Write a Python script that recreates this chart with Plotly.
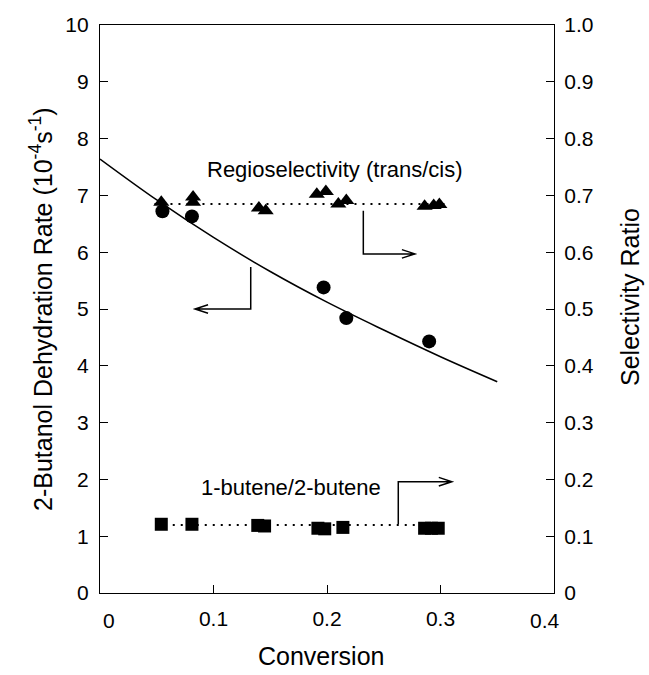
import plotly.graph_objects as go

# ---- data ----
rate_x = [0.055, 0.081, 0.197, 0.217, 0.290]
rate_y = [6.72, 6.63, 5.38, 4.84, 4.43]

fit_x = [0.0, 0.05, 0.10, 0.15, 0.20, 0.25, 0.30, 0.35]
fit_y = [7.64, 6.92, 6.26, 5.66, 5.12, 4.63, 4.16, 3.72]

regio_x = [0.054, 0.082, 0.082, 0.140, 0.146, 0.191, 0.199, 0.210, 0.217, 0.286, 0.294, 0.299]
regio_y = [0.688, 0.697, 0.688, 0.678, 0.673, 0.702, 0.707, 0.685, 0.691, 0.681, 0.682, 0.684]
regio_mean_x = [0.048, 0.304]
regio_mean_y = [0.685, 0.685]

butene_x = [0.054, 0.081, 0.139, 0.145, 0.192, 0.198, 0.214, 0.286, 0.292, 0.298]
butene_y = [0.121, 0.121, 0.119, 0.118, 0.114, 0.113, 0.1155, 0.114, 0.114, 0.114]
butene_mean_x = [0.050, 0.300]
butene_mean_y = [0.1195, 0.1195]

x_ticks = [0.1, 0.2, 0.3]
x_ticklabels = ["0.1", "0.2", "0.3"]
x_end_labels = {0.0: "0", 0.4: "0.4"}
y_ticks = list(range(0, 11))
y_ticklabels = [str(v) for v in y_ticks]
y2_ticks = [i / 10 for i in range(0, 11)]
y2_ticklabels = ["0", "0.1", "0.2", "0.3", "0.4", "0.5", "0.6", "0.7", "0.8", "0.9", "1.0"]

FONT = "Liberation Sans, Arial, sans-serif"
TICK_SIZE = 21

fig = go.Figure()

fig.add_trace(go.Scatter(x=fit_x, y=fit_y, mode="lines", line=dict(color="black", width=1.5, shape="spline"),
                         showlegend=False, hoverinfo="skip"))
fig.add_trace(go.Scatter(x=rate_x, y=rate_y, mode="markers",
                         marker=dict(symbol="circle", size=14, color="black"), showlegend=False))

fig.add_trace(go.Scatter(x=regio_mean_x, y=regio_mean_y, yaxis="y2", mode="lines",
                         line=dict(color="black", width=2, dash="2px,6px"), showlegend=False, hoverinfo="skip"))
fig.add_trace(go.Scatter(x=regio_x, y=regio_y, yaxis="y2", mode="markers",
                         marker=dict(symbol="triangle-up", size=14, color="black"), showlegend=False))

fig.add_trace(go.Scatter(x=butene_mean_x, y=butene_mean_y, yaxis="y2", mode="lines",
                         line=dict(color="black", width=2, dash="2px,6px"), showlegend=False, hoverinfo="skip"))
fig.add_trace(go.Scatter(x=butene_x, y=butene_y, yaxis="y2", mode="markers",
                         marker=dict(symbol="square", size=13, color="black"), showlegend=False))

axis_common = dict(showgrid=False, zeroline=False, showline=True, linecolor="black", linewidth=1.3,
                   ticks="inside", ticklen=8, tickwidth=1.3, tickcolor="black",
                   tickfont=dict(family=FONT, size=TICK_SIZE, color="black"))

fig.update_layout(
    width=649, height=675,
    margin=dict(l=100, r=95, t=25, b=82),
    paper_bgcolor="white", plot_bgcolor="white",
    font=dict(family=FONT, color="black"),
    xaxis=dict(range=[0, 0.4], tickvals=x_ticks, ticktext=x_ticklabels, mirror=True,
               ticklabelstandoff=7, **axis_common),
    yaxis=dict(range=[0, 10], tickvals=y_ticks, ticktext=y_ticklabels, ticklabelstandoff=6, **axis_common),
    yaxis2=dict(range=[0, 1.0], tickvals=y2_ticks, ticktext=y2_ticklabels, overlaying="y", side="right",
                ticklabelstandoff=5, **axis_common),
)

# x end labels (0 and 0.4) drawn slightly inward, as in the reference
for xv, lab in x_end_labels.items():
    fig.add_annotation(text=lab, x=xv, y=0, xref="x", yref="paper", showarrow=False,
                       xanchor="center", yanchor="top", yshift=-14,
                       xshift=9 if xv == 0 else -9,
                       font=dict(family=FONT, size=TICK_SIZE, color="black"))

# axis titles
fig.add_annotation(text="2-Butanol Dehydration Rate (10<sup>-4</sup>s<sup>-1</sup>)", xref="paper", yref="paper",
                   x=0, y=0.5, xshift=-59, xanchor="center", yanchor="middle", textangle=-90, showarrow=False,
                   font=dict(family=FONT, size=25, color="black"))
fig.add_annotation(text="Selectivity Ratio", xref="paper", yref="paper",
                   x=1, y=0.5, xshift=76, yshift=12, xanchor="center", yanchor="middle", textangle=-90,
                   showarrow=False, font=dict(family=FONT, size=25, color="black"))
fig.add_annotation(text="Conversion", xref="paper", yref="paper",
                   x=0.5, y=0, yshift=-63, xshift=-6, xanchor="center", yanchor="middle", showarrow=False,
                   font=dict(family=FONT, size=25, color="black"))

# in-plot labels
fig.add_annotation(text="Regioselectivity (trans/cis)", x=0.207, y=7.45, showarrow=False,
                   xanchor="center", yanchor="middle", font=dict(family=FONT, size=22, color="black"))
fig.add_annotation(text="1-butene/2-butene", x=0.168, y=1.85, showarrow=False,
                   xanchor="center", yanchor="middle", font=dict(family=FONT, size=22, color="black"))

# elbow arrows with open chevron heads: (x of vertical, y start, y corner, x end)
elbows = [
    (0.232, 6.73, 5.97, 0.2775),
    (0.1328, 5.74, 5.00, 0.0837),
    (0.2628, 1.21, 1.96, 0.310),
]
head_dx = 0.0115   # ~13 px along x
head_dy = 0.075    # ~4 px along y
for xv, ya, yb, xe in elbows:
    sgn = 1 if xe > xv else -1
    path = (f"M {xv},{ya} L {xv},{yb} L {xe},{yb} "
            f"M {xe - sgn * head_dx},{yb + head_dy} L {xe},{yb} L {xe - sgn * head_dx},{yb - head_dy}")
    fig.add_shape(type="path", path=path, xref="x", yref="y",
                  line=dict(color="black", width=1.5))

# remove the default 8px page margin so the 649x675 figure fills the window exactly
fig.write_html("out.html", config={"displayModeBar": False},
               post_script="document.body.style.margin='0';")
